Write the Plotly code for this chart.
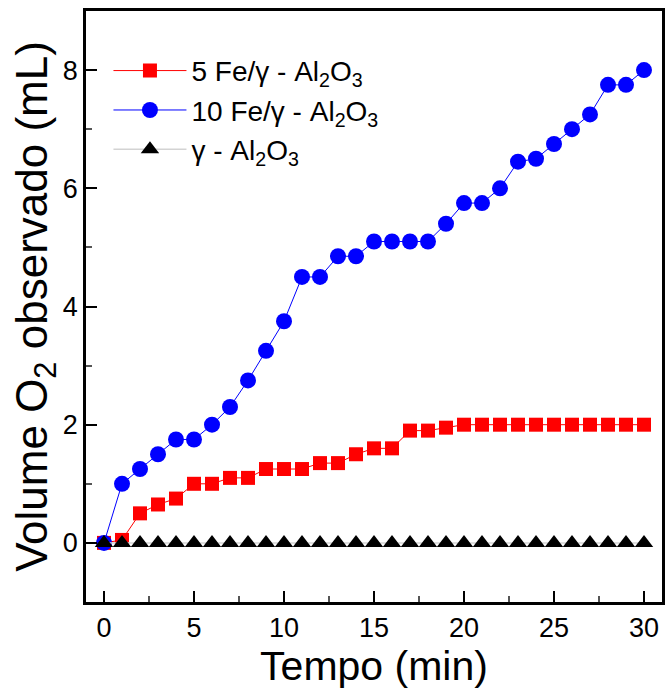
import plotly.graph_objects as go

tempo = list(range(0, 31))
fe5 = [0, 0.05, 0.5, 0.65, 0.75, 1.0, 1.0, 1.1, 1.1, 1.25, 1.25, 1.25, 1.35, 1.35, 1.5, 1.6,
       1.6, 1.9, 1.9, 1.95, 2.0, 2.0, 2.0, 2.0, 2.0, 2.0, 2.0, 2.0, 2.0, 2.0, 2.0]
fe10 = [0, 1.0, 1.25, 1.5, 1.75, 1.75, 2.0, 2.3, 2.75, 3.25, 3.75, 4.5, 4.5, 4.85, 4.85, 5.1,
        5.1, 5.1, 5.1, 5.4, 5.75, 5.75, 6.0, 6.45, 6.5, 6.75, 7.0, 7.25, 7.75, 7.75, 8.0]
alumina = [0] * 31

names = ["5 Fe/γ - Al<sub>2</sub>O<sub>3</sub>",
         "10 Fe/γ - Al<sub>2</sub>O<sub>3</sub>",
         "γ - Al<sub>2</sub>O<sub>3</sub>"]

FONT = "Liberation Sans, Arial, sans-serif"

fig = go.Figure()
fig.add_trace(go.Scatter(x=tempo, y=fe5, mode="lines+markers", name=names[0], legendgroup="a",
                         line=dict(color="red", width=1),
                         marker=dict(symbol="square", size=14, color="red")))
fig.add_trace(go.Scatter(x=tempo, y=fe10, mode="lines+markers", name=names[1], legendgroup="b",
                         line=dict(color="blue", width=1),
                         marker=dict(symbol="circle", size=16, color="blue")))
fig.add_trace(go.Scatter(x=tempo, y=alumina, mode="lines+markers", name=names[2], legendgroup="c",
                         line=dict(color="#d3d3d3", width=1.5),
                         marker=dict(symbol="triangle-up", size=16, color="black")))

fig.update_layout(
    width=667, height=696,
    margin=dict(l=86, r=2, t=11, b=94),
    plot_bgcolor="white", paper_bgcolor="white",
    font=dict(family=FONT, color="black", size=26),
    showlegend=True,
    legend=dict(x=0.039, y=0.941, xanchor="left", yanchor="top",
                bgcolor="rgba(0,0,0,0)", borderwidth=0,
                font=dict(size=28, family=FONT), traceorder="normal",
                itemwidth=73, tracegroupgap=10),
)

fig.update_xaxes(
    range=[-1, 31], tickmode="array", tickvals=[0, 5, 10, 15, 20, 25, 30],
    ticks="inside", ticklen=11, tickwidth=2, tickcolor="black",
    showline=True, linewidth=2.5, linecolor="black", mirror=True,
    showgrid=False, zeroline=False,
    tickfont=dict(size=27, family=FONT),
    minor=dict(ticks="inside", ticklen=6, tickwidth=1.5, tickcolor="#555", dtick=2.5, tick0=0, showgrid=False),
    title=dict(text="Tempo (min)", font=dict(size=41, family=FONT), standoff=4),
)
fig.update_yaxes(
    range=[-1, 9], tickmode="array", tickvals=[0, 2, 4, 6, 8],
    ticks="inside", ticklen=11, tickwidth=2, tickcolor="black",
    showline=True, linewidth=2.5, linecolor="black", mirror=True,
    showgrid=False, zeroline=False,
    tickfont=dict(size=27, family=FONT),
    minor=dict(ticks="inside", ticklen=6, tickwidth=1.5, tickcolor="#555", dtick=1, tick0=0, showgrid=False),
    title=dict(text="Volume O<sub>2</sub> observado (mL)", font=dict(size=44, family=FONT), standoff=2),
)

fig.write_html("out.html")
